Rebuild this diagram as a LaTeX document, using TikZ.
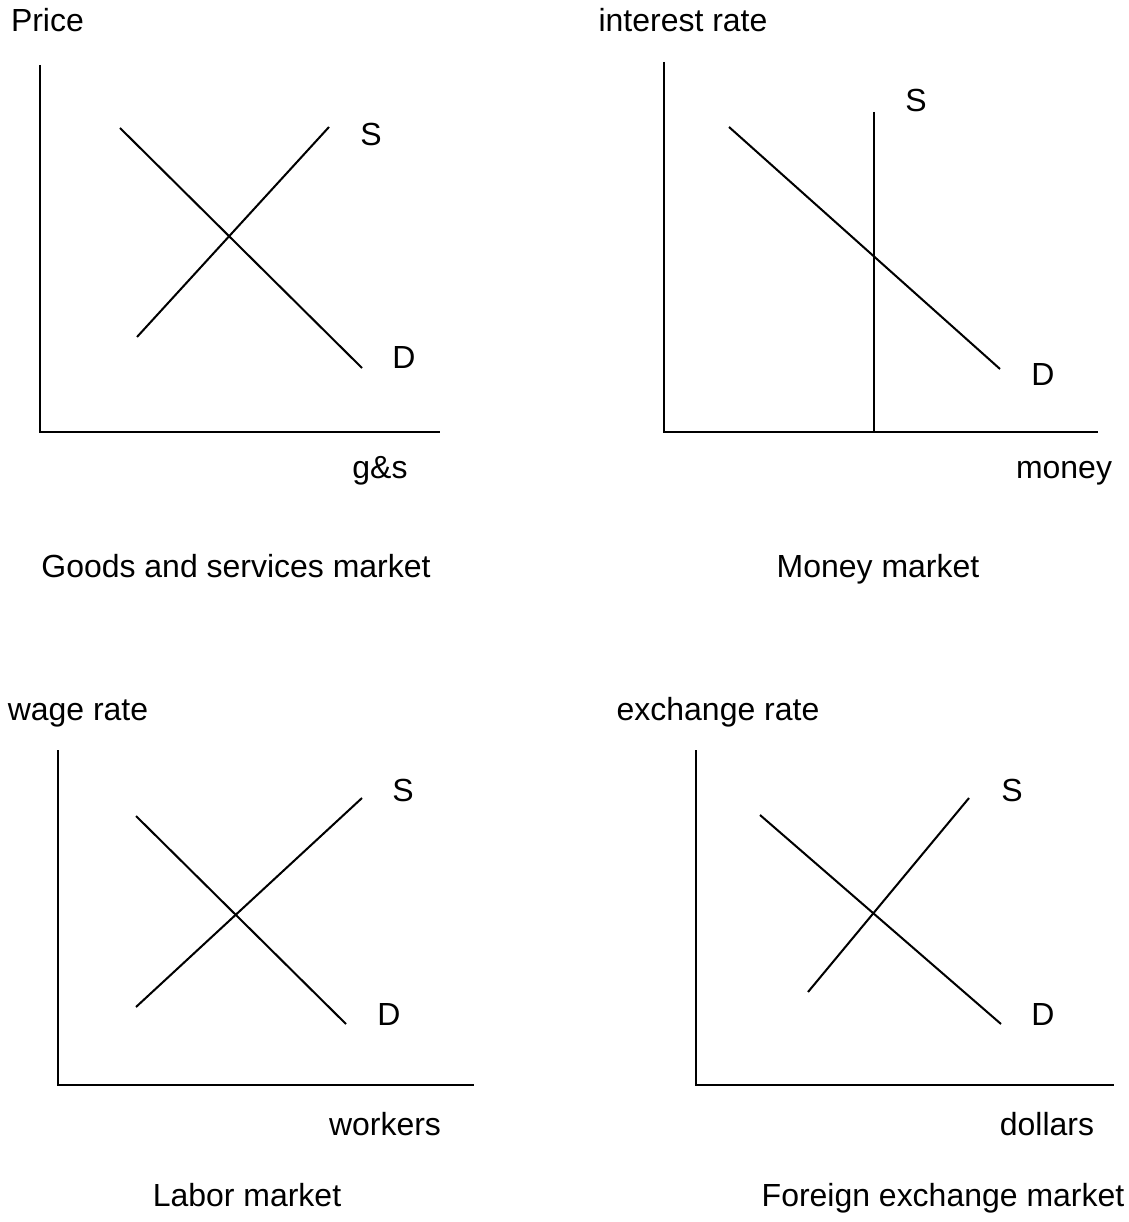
\documentclass[tikz,border=0pt]{standalone}
\usepackage{fontspec}
\setmainfont{Liberation Sans}
\usepackage{tikz}

\begin{document}
\begin{tikzpicture}[x=0.02cm, y=-0.02cm, line width=1.15pt,
  lbl/.style={anchor=base, inner sep=0pt, font=\fontsize{18.2}{22}\selectfont}]
  \useasboundingbox (0,0) rectangle (1128,1222);
  % goods and services market
  \draw (40,65) -- (40,432) -- (440,432);
  \draw (120,128) -- (362,368);
  \draw (137,337) -- (329,127);
  \node[lbl,anchor=base west] (price) at (10,32) {Price};
  \node[lbl] (gsS) at (371,146) {S};
  \node[lbl] (gsD) at (404,369) {D};
  \node[lbl] (gs) at (380,478) {g\&s};
  \node[lbl] (gstitle) at (236,577) {Goods and services market};
  % money market
  \draw (664,62) -- (664,432) -- (1098,432);
  \draw (874,112) -- (874,432);
  \draw (729,127) -- (1000,369);
  \node[lbl] (irate) at (683,32) {interest rate};
  \node[lbl] (mmS) at (916,112) {S};
  \node[lbl] (mmD) at (1043,386) {D};
  \node[lbl] (money) at (1064,478) {money};
  \node[lbl] (mmtitle) at (878,577) {Money market};
  % labor market
  \draw (58,750) -- (58,1085) -- (474,1085);
  \draw (136,816) -- (346,1024);
  \draw (136,1007) -- (362,798);
  \node[lbl] (wrate) at (78,720) {wage rate};
  \node[lbl] (lmS) at (403,801) {S};
  \node[lbl] (lmD) at (389,1025) {D};
  \node[lbl] (workers) at (385,1135) {workers};
  \node[lbl] (lmtitle) at (247,1206) {Labor market};
  % foreign exchange market
  \draw (696,750) -- (696,1085) -- (1114,1085);
  \draw (760,815) -- (1001,1024);
  \draw (808,992) -- (969,798);
  \node[lbl] (xrate) at (718,720) {exchange rate};
  \node[lbl] (fxS) at (1012,801) {S};
  \node[lbl] (fxD) at (1043,1025) {D};
  \node[lbl] (dollars) at (1047,1135) {dollars};
  \node[lbl] (fxtitle) at (943,1206) {Foreign exchange market};
\end{tikzpicture}
\end{document}
